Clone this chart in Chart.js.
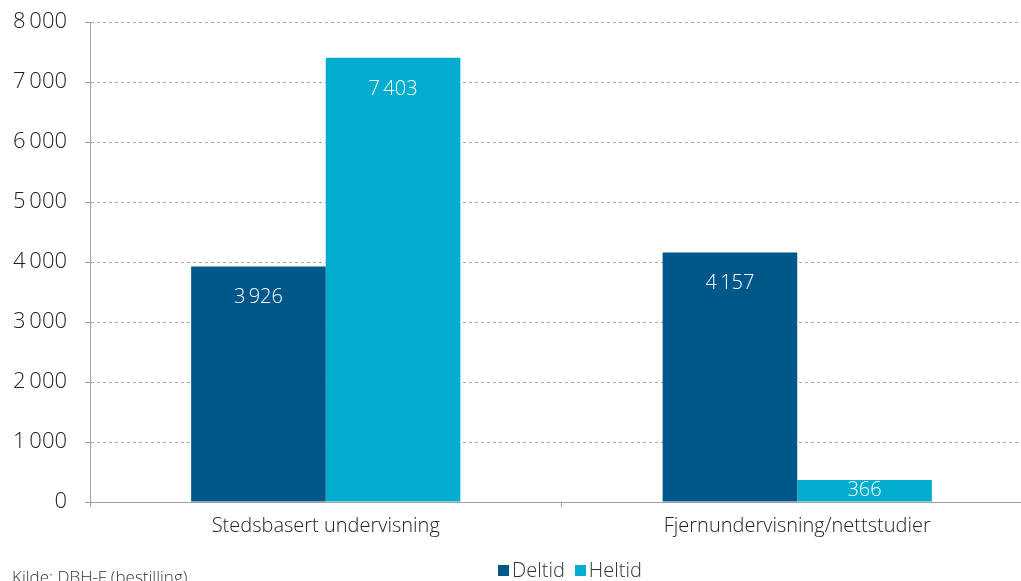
<!DOCTYPE html>
<html><head><meta charset="utf-8">
<script src="https://cdn.jsdelivr.net/npm/chart.js@4/dist/chart.umd.min.js"></script>
<style>
html,body{margin:0;padding:0;background:#fff;overflow:hidden;width:1021px;height:581px;}
#wrap{position:absolute;left:0;top:0;width:1040px;height:581px;}
#legend{position:absolute;top:556px;left:0;width:1140px;text-align:center;font-family:"Open Sans",sans-serif;font-weight:300;font-size:20px;color:#333;}
#legend span.item{display:inline-block;margin:0 5px;}
#legend span.box{display:inline-block;width:11px;height:11px;margin-right:3px;vertical-align:1px;}
#source{position:absolute;left:12px;top:565px;font-family:"Open Sans",sans-serif;font-weight:300;font-size:17px;color:#333;white-space:nowrap;}
</style></head><body>
<div id="wrap"><canvas id="c" width="1040" height="581"></canvas></div>
<div id="legend"></div>
<div id="source">Kilde: DBH-F (bestilling)</div>
<script>
const categories = ["Stedsbasert undervisning", "Fjernundervisning/nettstudier"];
const seriesNames = ["Deltid", "Heltid"];
const deltid = [3926, 4157];
const heltid = [7403, 366];
const colors = ["#00578A", "#02ADCF"];
const yTicks = [0, 1000, 2000, 3000, 4000, 5000, 6000, 7000, 8000];

function fmt(v){ return String(v).replace(/\B(?=(\d{3})+(?!\d))/g, "\u2009"); }

const lg = document.getElementById('legend');
seriesNames.forEach((n,i)=>{
  const s=document.createElement('span'); s.className='item';
  s.innerHTML='<span class="box" style="background:'+colors[i]+'"></span>'+n;
  lg.appendChild(s);
});

const labelPlugin = {
  id:'barLabels',
  afterDatasetsDraw(chart){
    const ctx=chart.ctx;
    ctx.save();
    ctx.font='300 20px "Open Sans", sans-serif';
    ctx.fillStyle='#ffffff';
    ctx.textAlign='center';
    ctx.textBaseline='middle';
    chart.data.datasets.forEach((ds,di)=>{
      chart.getDatasetMeta(di).data.forEach((bar,i)=>{
        const h=bar.base-bar.y;
        let y = h>62 ? bar.y+31 : bar.y+h/2;
        ctx.fillText(fmt(ds.data[i]), bar.x, y);
      });
    });
    ctx.restore();
  }
};

new Chart(document.getElementById('c'),{
  type:'bar',
  data:{labels:categories,datasets:[
    {label:seriesNames[0],data:deltid,backgroundColor:colors[0],barPercentage:1,categoryPercentage:0.571},
    {label:seriesNames[1],data:heltid,backgroundColor:colors[1],barPercentage:1,categoryPercentage:0.571}
  ]},
  options:{
    responsive:false,animation:false,
    layout:{padding:{top:22,right:7,left:0,bottom:0}},
    plugins:{legend:{display:false},tooltip:{enabled:false}},
    scales:{
      x:{
        grid:{drawOnChartArea:false,drawTicks:true,tickLength:5,color:'#a0a0a0',offset:true},
        border:{color:'#a0a0a0',width:1},
        ticks:{font:{family:'"Open Sans", sans-serif',size:20,weight:300},color:'#222',padding:7},
        afterFit(s){ s.height=79; }
      },
      y:{
        min:0,max:8000,
        afterBuildTicks(s){ s.ticks=yTicks.map(v=>({value:v})); },
        grid:{color:'#a8a8a8',tickColor:'#a0a0a0',tickLength:5,drawTicks:true},
        border:{color:'#a0a0a0',width:1,dash:[3,3]},
        ticks:{font:{family:'"Open Sans", sans-serif',size:22,weight:300,lineHeight:0.6},color:'#222',padding:18,
          callback:(v)=>fmt(v)},
        afterFit(s){ s.width=90; s.paddingTop=0; s.paddingBottom=0; }
      }
    }
  },
  plugins:[labelPlugin]
});
</script>
</body></html>
